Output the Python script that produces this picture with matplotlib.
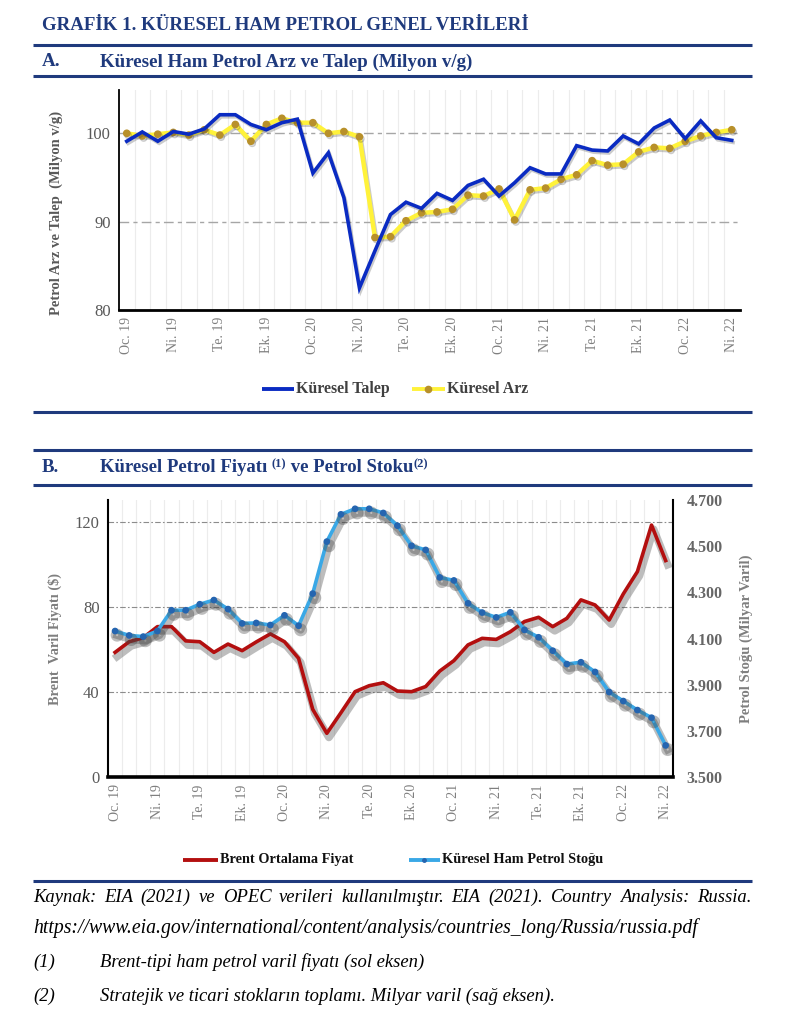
import matplotlib
matplotlib.use('Agg')
import matplotlib.pyplot as plt
import matplotlib.patheffects as pe
from matplotlib.lines import Line2D
from matplotlib.ticker import FixedLocator, FuncFormatter
import numpy as np

# ---------------- data ----------------
tick_labels = ['Oc. 19', 'Ni. 19', 'Te. 19', 'Ek. 19', 'Oc. 20', 'Ni. 20', 'Te. 20',
               'Ek. 20', 'Oc. 21', 'Ni. 21', 'Te. 21', 'Ek. 21', 'Oc. 22', 'Ni. 22']

demand = [99.1, 100.15, 99.1, 100.2, 99.9, 100.5, 102.1, 102.1, 101.0, 100.4, 101.2, 101.6,
          95.5, 97.8, 92.7, 82.5, 86.7, 90.8, 92.2, 91.5, 93.2, 92.4, 94.1, 94.8,
          92.9, 94.4, 96.1, 95.4, 95.4, 98.6, 98.1, 98.0, 99.7, 98.8, 100.6, 101.5,
          99.4, 101.4, 99.5, 99.2]
supply = [100.0, 99.7, 99.9, 100.1, 99.8, 100.4, 99.8, 101.0, 99.1, 101.0, 101.7, 101.2,
          101.2, 100.0, 100.2, 99.6, 88.2, 88.3, 90.1, 91.0, 91.1, 91.4, 93.0, 92.9,
          93.7, 90.2, 93.6, 93.8, 94.8, 95.3, 96.9, 96.4, 96.5, 97.9, 98.4, 98.3,
          99.1, 99.7, 100.1, 100.4]
brent = [58.8, 63.8, 65.7, 70.9, 70.9, 64.2, 63.8, 58.8, 62.7, 59.6, 63.7, 67.5,
         63.8, 56.0, 32.0, 20.7, 30.4, 40.3, 43.1, 44.5, 40.6, 40.3, 42.7, 50.0,
         54.9, 62.3, 65.4, 64.9, 68.5, 73.3, 75.3, 70.9, 74.8, 83.5, 81.1, 74.0,
         86.3, 96.8, 118.7, 102.0]
stocks = [4.133, 4.114, 4.109, 4.133, 4.223, 4.223, 4.249, 4.267, 4.228, 4.166, 4.168, 4.159,
          4.201, 4.156, 4.295, 4.520, 4.638, 4.662, 4.662, 4.644, 4.589, 4.502, 4.484, 4.365,
          4.352, 4.253, 4.213, 4.192, 4.214, 4.138, 4.106, 4.048, 3.990, 3.998, 3.956, 3.869,
          3.830, 3.791, 3.758, 3.638]

left_ticks_a = [80, 90, 100]
left_ticks_b = [0, 40, 80, 120]
right_ticks_b = [3.5, 3.7, 3.9, 4.1, 4.3, 4.5, 4.7]

# ---------------- style ----------------
SERIF = ['Liberation Serif', 'DejaVu Serif']
plt.rcParams['font.family'] = SERIF
NAVY = '#1f3a7d'
GRAY = '#595959'
W, H = 798, 1024

BLUE_D = '#0a2bc2'
YELLOW = '#fff23a'
GOLD = '#b8902a'
RED = '#b30f0f'
LBLUE = '#3aa8e6'
DBLUE = '#2565b0'

fig = plt.figure(figsize=(W / 100, H / 100), dpi=100)
fig.patch.set_facecolor('white')


def fx(x):
    return x / W


def fy(y):
    return 1 - y / H


def hrule(y, x0=33, x1=752, lw=2.2):
    fig.add_artist(Line2D([fx(x0), fx(x1)], [fy(y), fy(y)], transform=fig.transFigure,
                          color=NAVY, lw=lw, solid_capstyle='butt'))


renderer = fig.canvas.get_renderer()


def run_text(x, y, parts):
    cur = x
    for txt, size, weight, style, dy in parts:
        t = fig.text(fx(cur), fy(y - dy), txt, fontsize=size, fontweight=weight,
                     fontstyle=style, color=NAVY, va='center', ha='left', family=SERIF)
        bb = t.get_window_extent(renderer=renderer)
        cur += bb.width
    return cur


# Title & headings
fig.text(fx(42), fy(26), 'GRAFİK 1. KÜRESEL HAM PETROL GENEL VERİLERİ', fontsize=13.6,
         fontweight='bold', color=NAVY, va='center', ha='left')
hrule(45)
fig.text(fx(42), fy(62), 'A.', fontsize=13.7, fontweight='bold', color=NAVY, va='center')
fig.text(fx(100), fy(62), 'Küresel Ham Petrol Arz ve Talep (Milyon v/g)', fontsize=13.7,
         fontweight='bold', color=NAVY, va='center')
hrule(76)
hrule(412)
hrule(450)
fig.text(fx(42), fy(468), 'B.', fontsize=13.5, fontweight='bold', color=NAVY, va='center')
run_text(100, 468, [('Küresel Petrol Fiyatı ', 13.5, 'bold', 'normal', 0),
                    ('(1)', 9, 'bold', 'normal', 4),
                    (' ve Petrol Stoku', 13.5, 'bold', 'normal', 0),
                    ('(2)', 9, 'bold', 'normal', 4)])
hrule(485)
hrule(881)

x = np.arange(len(demand))

# ---------------- chart A ----------------
axA = fig.add_axes([fx(119), fy(310), fx(739.5) - fx(119), fy(90) - fy(310)])
axA.set_xlim(-0.5, len(demand) - 0.5)
axA.set_ylim(80, 104.9)
for b in np.arange(0.5, len(demand) - 0.5, 1.0):
    axA.axvline(b, color='#ececec', lw=0.8, zorder=0)
for v in [90, 100]:
    axA.axhline(v, color='#a6a6a6', lw=1.0, ls=(0, (7, 3, 3, 3)), zorder=1)

shA = [pe.SimpleLineShadow(offset=(1, -1.5), shadow_color='#333333', alpha=0.25),
       pe.Normal()]
axA.plot(x, demand, color=BLUE_D, lw=2.6, zorder=4, path_effects=shA,
         solid_joinstyle='miter')
axA.plot(x, supply, color=YELLOW, lw=3.2, zorder=3, marker='o', ms=4.5,
         mfc=GOLD, mec=GOLD, path_effects=shA)

axA.yaxis.set_major_locator(FixedLocator(left_ticks_a))
axA.set_xticks(np.arange(0, len(demand), 3))
axA.set_xticklabels(tick_labels, rotation=90, fontsize=10, color='#7f7f7f')
axA.tick_params(axis='both', length=0)
axA.tick_params(axis='y', labelsize=12, labelcolor=GRAY, pad=6)
axA.tick_params(axis='x', pad=5)
for s in ['top', 'right']:
    axA.spines[s].set_visible(False)
axA.spines['left'].set_linewidth(1.3)
axA.spines['bottom'].set_linewidth(2.0)
axA.set_ylabel('Petrol Arz ve Talep  (Milyon v/g)', fontsize=10.5, fontweight='bold',
               color=GRAY)
axA.yaxis.set_label_coords((fx(63) - fx(119)) / (fx(739.5) - fx(119)),
                           (fy(213) - fy(310)) / (fy(90) - fy(310)))


def leg_item(x0, x1, y, color, lw, text, size, tcolor, marker=None, mcolor=None, ms=4.5):
    fig.add_artist(Line2D([fx(x0), fx(x1)], [fy(y), fy(y)], transform=fig.transFigure,
                          color=color, lw=lw, solid_capstyle='butt'))
    if marker:
        fig.add_artist(Line2D([fx((x0 + x1) / 2)], [fy(y)], transform=fig.transFigure,
                              color=mcolor, marker=marker, ms=ms, lw=0))
    fig.text(fx(x1 + 2), fy(y), text, fontsize=size, fontweight='bold', color=tcolor,
             va='center', ha='left')


# legend A
leg_item(262, 294, 389, BLUE_D, 2.8, 'Küresel Talep', 11.4, '#404040')
leg_item(412, 445, 389, YELLOW, 2.8, 'Küresel Arz', 11.4, '#404040', marker='o',
         mcolor=GOLD, ms=4.5)

# ---------------- chart B ----------------
axB = fig.add_axes([fx(108), fy(777.3), fx(672.7) - fx(108), fy(500) - fy(777.3)])
axB.set_xlim(-0.5, len(brent) - 0.5)
axB.set_ylim(0, 130.5)
for b in np.arange(0.5, len(brent) - 0.5, 1.0):
    axB.axvline(b, color='#ececec', lw=0.8, zorder=0)
for v in [40, 80, 120]:
    axB.axhline(v, color='#8c8c8c', lw=0.8, ls=(0, (5, 2, 1.5, 2)), zorder=1)

axR = axB.twinx()
axR.set_ylim(3.5, 4.7)

shB = [pe.SimpleLineShadow(offset=(1.5, -3), shadow_color='#444444', alpha=0.35,
                           linewidth=5.5),
       pe.Normal()]
axB.plot(x, brent, color=RED, lw=2.6, zorder=3, path_effects=shB)
axR.plot(x, stocks, color=LBLUE, lw=2.6, zorder=3, marker='o', ms=3.8,
         mfc=DBLUE, mec=DBLUE, path_effects=shB)

axB.yaxis.set_major_locator(FixedLocator(left_ticks_b))
axB.set_xticks(np.arange(0, len(brent), 3))
axB.set_xticklabels(tick_labels, rotation=90, fontsize=10, color='#7f7f7f')
axB.tick_params(axis='both', length=0)
axB.tick_params(axis='y', labelsize=12, labelcolor=GRAY, pad=6)
axB.tick_params(axis='x', pad=5)
axR.yaxis.set_major_locator(FixedLocator(right_ticks_b))
axR.yaxis.set_major_formatter(FuncFormatter(lambda v, p: f'{v:.3f}'))
axR.tick_params(axis='y', length=0, labelsize=11.5, labelcolor='#666666', pad=10)
for lbl in axR.get_yticklabels():
    lbl.set_fontweight('bold')
for ax in (axB, axR):
    ax.spines['top'].set_visible(False)
axB.spines['right'].set_visible(False)
axR.spines['left'].set_visible(False)
axR.spines['bottom'].set_visible(False)
axR.spines['right'].set_linewidth(1.5)
axB.spines['left'].set_linewidth(1.5)
axB.spines['bottom'].set_linewidth(2.6)

axB.set_ylabel('Brent  Varil Fiyatı ($)', fontsize=10.3, fontweight='bold', color='#7f7f7f')
axB.yaxis.set_label_coords((fx(62) - fx(108)) / (fx(672.7) - fx(108)), 0.5)
axR.set_ylabel('Petrol Stoğu (Milyar Varil)', fontsize=10.5, fontweight='bold', color='#7f7f7f',
               rotation=90)
axR.yaxis.set_label_coords((fx(740) - fx(108)) / (fx(672.7) - fx(108)), 0.5)

# legend B
leg_item(183, 218, 860, RED, 2.8, 'Brent Ortalama Fiyat', 10.3, '#111111')
leg_item(409, 440, 860, LBLUE, 2.8, 'Küresel Ham Petrol Stoğu', 10.3, '#111111', marker='o',
         mcolor=DBLUE, ms=2.5)


# ---------------- footer ----------------
def justified(y, text, x0, x1, size):
    words = text.split(' ')
    arts = []
    total = 0
    for w in words:
        t = fig.text(0, fy(y), w, fontsize=size, fontstyle='italic', color='black',
                     va='center', ha='left')
        bb = t.get_window_extent(renderer=renderer)
        arts.append((t, bb.width))
        total += bb.width
    gap = (x1 - x0 - total) / (len(words) - 1)
    cur = x0
    for t, wdt in arts:
        t.set_x(fx(cur))
        cur += wdt + gap


FS = 13.4
justified(897, 'Kaynak: EIA (2021) ve OPEC verileri kullanılmıştır. EIA (2021). Country Analysis: Russia.',
          33, 751, FS)
fig.text(fx(33), fy(928),
         'https://www.eia.gov/international/content/analysis/countries_long/Russia/russia.pdf',
         fontsize=14.2, fontstyle='italic', color='black', va='center')
fig.text(fx(33), fy(962), '(1)', fontsize=FS, fontstyle='italic', va='center')
fig.text(fx(100), fy(962), 'Brent-tipi ham petrol varil fiyatı (sol eksen)', fontsize=FS,
         fontstyle='italic', va='center')
fig.text(fx(33), fy(996), '(2)', fontsize=FS, fontstyle='italic', va='center')
fig.text(fx(100), fy(996), 'Stratejik ve ticari stokların toplamı. Milyar varil (sağ eksen).',
         fontsize=FS, fontstyle='italic', va='center')

fig.savefig('out.png', dpi=100, facecolor='white')
